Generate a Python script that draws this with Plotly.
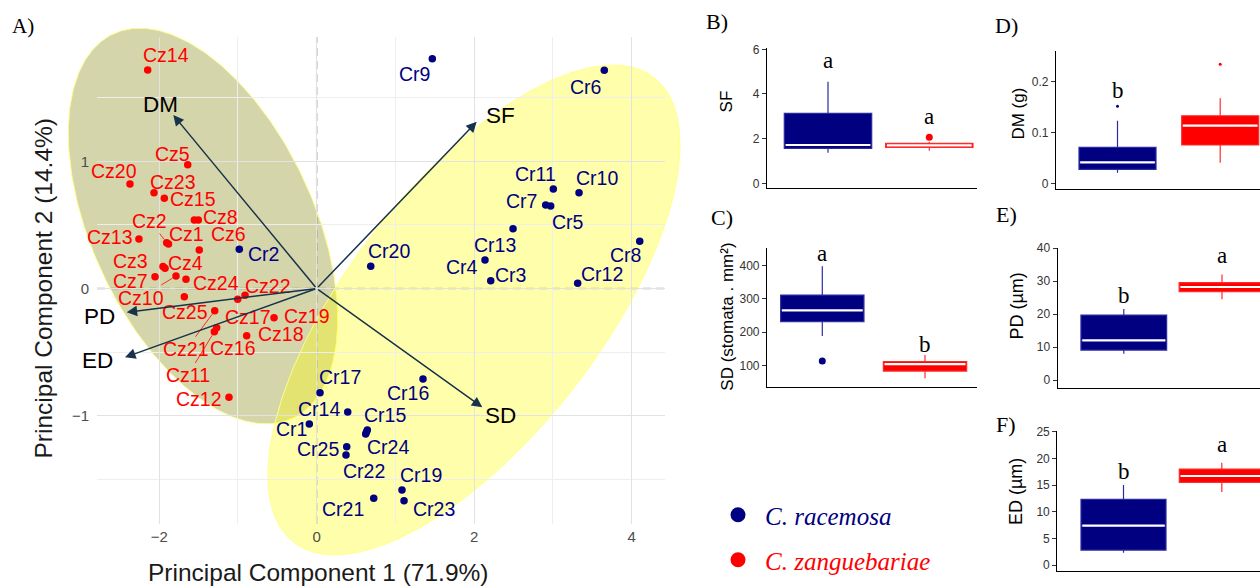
import numpy as np
import plotly.graph_objects as go

W, H = 1260, 587

# ---------------- PCA data (scores) ----------------
cz_names = ["Cz1", "Cz2", "Cz3", "Cz4", "Cz5", "Cz6", "Cz7", "Cz8", "Cz9", "Cz10",
            "Cz11", "Cz12", "Cz13", "Cz14", "Cz15", "Cz16", "Cz17", "Cz18", "Cz19", "Cz20",
            "Cz21", "Cz22", "Cz23", "Cz24", "Cz25"]
cz_pc1 = [-1.882, -1.905, -1.952, -1.926, -1.638, -1.491, -2.053, -1.554, -1.503, -1.787,
          -1.300, -1.114, -2.257, -2.146, -1.935, -1.270, -1.003, -0.889, -0.542, -2.371,
          -1.295, -0.910, -2.066, -1.660, -1.681]
cz_pc2 = [0.350, 0.360, 0.173, 0.159, 0.973, 0.303, 0.093, 0.539, 0.539, 0.098,
          -0.340, -0.855, 0.389, 1.718, 0.709, -0.308, -0.085, -0.371, -0.230, 0.822,
          -0.175, -0.053, 0.753, 0.072, -0.064]

cr_names = ["Cr1", "Cr2", "Cr3", "Cr4", "Cr5", "Cr6", "Cr7", "Cr8", "Cr9", "Cr10",
            "Cr11", "Cr12", "Cr13", "Cr14", "Cr15", "Cr16", "Cr17", "Cr18", "Cr19", "Cr20",
            "Cr21", "Cr22", "Cr23", "Cr24", "Cr25"]
cr_pc1 = [-0.094, -0.983, 2.210, 2.137, 2.971, 3.652, 2.908, 4.102, 1.468, 3.331,
          3.005, 3.314, 2.493, 0.394, 0.643, 1.350, 0.042, 0.632, 1.083, 0.686,
          0.724, 0.372, 1.109, 0.622, 0.381]
cr_pc2 = [-1.065, 0.308, 0.061, 0.224, 0.649, 1.715, 0.656, 0.371, 1.807, 0.753,
          0.782, 0.041, 0.470, -0.971, -1.112, -0.711, -0.819, -1.128, -1.584, 0.175,
          -1.649, -1.309, -1.668, -1.144, -1.244]

load_names = ["SF", "SD", "DM", "PD", "ED"]
load_pc1 = [2.032, 2.103, -1.821, -2.413, -2.434]
load_pc2 = [1.311, -0.934, 1.364, -0.187, -0.541]

# 68% ellipses (centre and two conjugate semi-axes, PC units)
ell_center = {"Cz": (-1.444, 0.491), "Cr": (1.997, -0.169)}
ell_u = {"Cz": (1.138, -1.511), "Cr": (2.288, 1.826)}
ell_v = {"Cz": (-1.277, -0.369), "Cr": (1.271, -0.611)}

# ---------------- Box-plot statistics: q1, median, q3, lower, upper ----------------
box_vars = ["SF", "SD", "DM", "PD", "ED"]
box_cr = {"SF": [1.567, 1.715, 3.135, 1.37, 4.55],
          "SD": [231.5, 265.5, 311.3, 188.7, 397.0],
          "DM": [0.0287, 0.0424, 0.0717, 0.0221, 0.1236],
          "PD": [9.09, 12.0, 19.7, 8.0, 21.5],
          "ED": [2.8, 7.4, 12.3, 2.3, 15.0]}
box_cz = {"SF": [1.612, 1.70, 1.79, 1.46, 1.86],
          "SD": [84.0, 105.0, 112.0, 62.5, 132.0],
          "DM": [0.0762, 0.1139, 0.1334, 0.0416, 0.1674],
          "PD": [26.8, 28.2, 29.5, 24.5, 32.0],
          "ED": [15.5, 16.7, 18.0, 13.7, 19.2]}
out_cr = {"SF": [], "SD": [114.0], "DM": [0.152], "PD": [], "ED": []}
out_cz = {"SF": [2.06], "SD": [], "DM": [0.234], "PD": [], "ED": []}
letters = {"SF": ("a", "a"), "SD": ("a", "b"), "DM": ("b", "a"), "PD": ("b", "a"), "ED": ("b", "a")}
y_titles = {"SF": "SF", "SD": "SD (stomata . mm²)", "DM": "DM (g)", "PD": "PD (µm)", "ED": "ED (µm)"}
y_ticks = {"SF": [0, 2, 4, 6], "SD": [100, 200, 300, 400], "DM": [0, 0.1, 0.2],
           "PD": [0, 10, 20, 30, 40], "ED": [0, 5, 10, 15, 20, 25]}

# ---------------- layout / style (positions in pixels) ----------------
X0, SX = 316.7, 78.75
Y0, SY = 288.5, 127.2
main_px = dict(L=97, R=665, T=37, B=524)
ell_px = dict(L=30, R=720, T=10, B=585)

label_off = {
    "Cz1": (17.8, -9.8), "Cz2": (-16.7, -21.7), "Cz3": (-32, -5.5), "Cz4": (20.5, -5),
    "Cz5": (-15.2, -11), "Cz6": (29.7, -16), "Cz7": (-25, 4.3), "Cz8": (25.7, -3.3),
    "Cz10": (-35.2, 21.5), "Cz11": (-26.6, 43.6), "Cz12": (-30, 1.7), "Cz13": (-29.3, -2.3),
    "Cz14": (18, -15.3), "Cz15": (28.7, 1), "Cz16": (16.3, 20.3), "Cz17": (10.1, 17.7),
    "Cz18": (34.1, -1.2), "Cz19": (32.7, -1.9), "Cz20": (-16.3, -13.3), "Cz21": (-28.5, 38.5),
    "Cz22": (22.5, -9.5), "Cz23": (18.8, -11.2), "Cz24": (29.8, 3.2), "Cz25": (1, 15.5),
    "Cr1": (-18.3, 5.2), "Cr2": (24.7, 4.7), "Cr3": (19.3, -5.9), "Cr4": (-22.5, 6.5),
    "Cr5": (17.6, 16.5), "Cr6": (-18.5, 16.5), "Cr7": (-24.7, -4.2), "Cr8": (-14.4, 13.5),
    "Cr9": (-18.3, 15.3), "Cr10": (18, -14.7), "Cr11": (-18.3, -15), "Cr12": (24.3, -9.1),
    "Cr13": (-18, 16.1), "Cr14": (-28.9, -2.8), "Cr15": (18, -14.8), "Cr16": (-15.3, 14.5),
    "Cr17": (19.5, -15.2), "Cr19": (19, -14.8), "Cr20": (18, -14.8), "Cr21": (-30.9, 10.9),
    "Cr22": (18.3, 15.8), "Cr23": (30.3, 8.5), "Cr24": (22.3, 12.8), "Cr25": (-28.7, 1.8),
}
segment_labels = {"Cz2", "Cz10", "Cz21", "Cz11"}
load_off = {"SF": (23.3, -6), "SD": (17.7, 8.5), "DM": (-12.5, -10), "PD": (-26.7, 4.4), "ED": (-27.5, 2.7)}

box_px = {
    "SF": dict(L=767, R=977, T=48.3, B=188.3, c1=828, c2=929.3, bw=87.4, yr=(-0.224, 6.045),
               lab=(5.51, 3.00), tit=(726.7, 101.7, 17)),
    "SD": dict(L=767, R=977, T=248.3, B=387.3, c1=822.3, c2=925, bw=83.3, yr=(35.5, 451),
               lab=(436.7, 164.8), tit=(726.7, 317, 17)),
    "DM": dict(L=1056, R=1260, T=50.7, B=189.3, c1=1117.5, c2=1220.2, bw=77, yr=(-0.0104, 0.2605),
               lab=(0.1836, 0.2623), tit=(1018.3, 113.3, 17)),
    "PD": dict(L=1057.7, R=1260, T=247.7, B=388.3, c1=1123.8, c2=1222, bw=85.7, yr=(-2.5, 40.1),
               lab=(25.7, 37.6), tit=(1016.7, 305.8, 18)),
    "ED": dict(L=1057.3, R=1260, T=430.7, B=570.7, c1=1123.5, c2=1221.8, bw=85, yr=(-1.07, 25.2),
               lab=(17.5, 22.7), tit=(1016.7, 491.3, 18)),
}
panel_tags = [("A)", 22.5, 25.8, 21), ("B)", 717, 21, 22), ("C)", 721.7, 217.2, 22),
              ("D)", 1006.7, 25.8, 22), ("E)", 1006.7, 215, 22), ("F)", 1006.3, 424.2, 22)]

NAVY, RED = "#000080", "#FF0000"
ARROW = "#17324A"
SANS, SERIF = "Liberation Sans", "Liberation Serif"


def fx(px):
    return px / W


def fy(py):
    return 1 - py / H


def paper_text(txt, px, py, font, angle=0):
    return dict(x=fx(px), y=fy(py), xref="paper", yref="paper", text=txt, showarrow=False,
                xanchor="center", yanchor="middle", textangle=angle, font=font)


fig = go.Figure()
ann = []

# ellipses on an invisible, larger subplot with the same scale
t = np.linspace(0, 2 * np.pi, 361)
for grp, fill in [("Cz", "rgba(128,128,0,0.33)"), ("Cr", "rgba(255,255,0,0.33)")]:
    cx, cy = ell_center[grp]
    ux, uy = ell_u[grp]
    vx, vy = ell_v[grp]
    fig.add_trace(go.Scatter(
        x=cx + ux * np.cos(t) + vx * np.sin(t), y=cy + uy * np.cos(t) + vy * np.sin(t),
        mode="lines", fill="toself", fillcolor=fill,
        line=dict(color="rgba(255,255,140,1)", width=1), hoverinfo="skip",
        showlegend=False, xaxis="x", yaxis="y"))

# score points
for xs, ys, col in [(cz_pc1, cz_pc2, RED), (cr_pc1, cr_pc2, NAVY)]:
    fig.add_trace(go.Scatter(x=xs, y=ys, mode="markers", marker=dict(color=col, size=7.5),
                             cliponaxis=False, showlegend=False, hoverinfo="skip",
                             xaxis="x2", yaxis="y2"))

# legend-only entries
fig.add_trace(go.Scatter(x=[None], y=[None], mode="markers", marker=dict(color=NAVY, size=15),
                         name="<i>C. racemosa</i>", legend="legend", xaxis="x2", yaxis="y2"))
fig.add_trace(go.Scatter(x=[None], y=[None], mode="markers", marker=dict(color=RED, size=15),
                         name="<i>C. zanguebariae</i>", legend="legend2", xaxis="x2", yaxis="y2"))

# point labels
for names, xs, ys, col in [(cz_names, cz_pc1, cz_pc2, RED), (cr_names, cr_pc1, cr_pc2, NAVY)]:
    for nm, xv, yv in zip(names, xs, ys):
        if nm not in label_off:
            continue
        dx, dy = label_off[nm]
        if nm in segment_labels:
            ann.append(dict(x=xv, y=yv, xref="x2", yref="y2", text=nm, showarrow=True,
                            ax=dx, ay=dy, arrowhead=0, arrowwidth=0.8, arrowcolor=col,
                            standoff=4, font=dict(family=SANS, size=19.5, color=col)))
        else:
            ann.append(dict(x=xv, y=yv, xref="x2", yref="y2", text=nm, showarrow=False,
                            xshift=dx, yshift=-dy, font=dict(family=SANS, size=19.5, color=col)))

# loading arrows
for nm, xv, yv in zip(load_names, load_pc1, load_pc2):
    ann.append(dict(x=xv, y=yv, xref="x2", yref="y2", ax=0, ay=0, axref="x2", ayref="y2",
                    text="", showarrow=True, arrowhead=2, arrowsize=1.4, arrowwidth=1.5,
                    arrowcolor=ARROW))
    dx, dy = load_off[nm]
    ann.append(dict(x=xv, y=yv, xref="x2", yref="y2", text=nm, showarrow=False,
                    xshift=dx, yshift=-dy, font=dict(family=SANS, size=22.5, color="black")))

# PCA axis titles
ann.append(paper_text("Principal Component 1 (71.9%)", 318, 572,
                      dict(family=SANS, size=24.5, color="#1A1A1A")))
ann.append(paper_text("Principal Component 2 (14.4%)", 42.5, 289,
                      dict(family=SANS, size=24.5, color="#1A1A1A"), angle=-90))

layout = dict(
    width=W, height=H, autosize=False,
    margin=dict(l=0, r=0, t=0, b=0, pad=0, autoexpand=False),
    paper_bgcolor="white", plot_bgcolor="rgba(0,0,0,0)",
    xaxis=dict(domain=[fx(ell_px["L"]), fx(ell_px["R"])],
               range=[(ell_px["L"] - X0) / SX, (ell_px["R"] - X0) / SX],
               visible=False, fixedrange=True, anchor="y", automargin=False),
    yaxis=dict(domain=[fy(ell_px["B"]), fy(ell_px["T"])],
               range=[(Y0 - ell_px["B"]) / SY, (Y0 - ell_px["T"]) / SY],
               visible=False, fixedrange=True, anchor="x", automargin=False),
    xaxis2=dict(domain=[fx(main_px["L"]), fx(main_px["R"])],
                range=[(main_px["L"] - X0) / SX, (main_px["R"] - X0) / SX],
                anchor="y2", tick0=0, dtick=2, showgrid=True, gridcolor="#E2E2E2", gridwidth=1.1,
                minor=dict(dtick=1, showgrid=True, gridcolor="#EEEEEE", gridwidth=0.7),
                zeroline=False, showline=False, ticks="", ticklabelstandoff=2, automargin=False,
                tickfont=dict(family=SANS, size=15, color="#4D4D4D"), fixedrange=True),
    yaxis2=dict(domain=[fy(main_px["B"]), fy(main_px["T"])],
                range=[(Y0 - main_px["B"]) / SY, (Y0 - main_px["T"]) / SY],
                anchor="x2", tick0=0, dtick=1, showgrid=True, gridcolor="#E2E2E2", gridwidth=1.1,
                minor=dict(dtick=0.5, showgrid=True, gridcolor="#EEEEEE", gridwidth=0.7),
                zeroline=False, showline=False, ticks="", ticklabelstandoff=7, automargin=False,
                tickfont=dict(family=SANS, size=15, color="#4D4D4D"), fixedrange=True),
    legend=dict(x=fx(711), y=fy(515), xanchor="left", yanchor="middle", itemwidth=44,
                bgcolor="rgba(0,0,0,0)", font=dict(family=SERIF, size=25, color=NAVY)),
    legend2=dict(x=fx(711), y=fy(560), xanchor="left", yanchor="middle", itemwidth=44,
                 bgcolor="rgba(0,0,0,0)", font=dict(family=SERIF, size=25, color=RED)),
    shapes=[
        dict(type="line", xref="x2", yref="y2 domain", x0=0, x1=0, y0=0, y1=1,
             line=dict(color="#A6A6A6", width=1.5, dash="8px,5px"), layer="below"),
        dict(type="line", xref="x2 domain", yref="y2", x0=0, x1=1, y0=0, y1=0,
             line=dict(color="#A6A6A6", width=1.5, dash="8px,5px"), layer="below"),
    ],
)

# ---------------- box panels ----------------
for k, var in enumerate(box_vars):
    n = k + 3
    xa, ya = f"x{n}", f"y{n}"
    bp = box_px[var]
    span = bp["c2"] - bp["c1"]
    xr = [1 - (bp["c1"] - bp["L"]) / span, 1 + (bp["R"] - bp["c1"]) / span]
    bwd = bp["bw"] / span
    for pos, stats, outs, fill, lc in [(1, box_cr[var], out_cr[var], NAVY, "#2B2BA0"),
                                       (2, box_cz[var], out_cz[var], RED, "#FF2A2A")]:
        q1, med, q3, lo, hi = stats
        fig.add_trace(go.Box(x=[pos], q1=[q1], median=[med], q3=[q3], lowerfence=[lo],
                             upperfence=[hi], width=bwd, fillcolor=fill,
                             line=dict(color=lc, width=1.2), whiskerwidth=0, boxpoints=False,
                             showlegend=False, hoverinfo="skip", xaxis=xa, yaxis=ya))
        fig.add_trace(go.Scatter(x=[pos - bwd * 0.485, pos + bwd * 0.485], y=[med, med],
                                 mode="lines", line=dict(color="white", width=2.2),
                                 showlegend=False, hoverinfo="skip", xaxis=xa, yaxis=ya))
        if outs:
            msize = 3 if var == "DM" else 7
            fig.add_trace(go.Scatter(x=[pos] * len(outs), y=outs, mode="markers",
                                     marker=dict(color=fill, size=msize), cliponaxis=False,
                                     showlegend=False, hoverinfo="skip", xaxis=xa, yaxis=ya))
    for pos, letter, ly in [(1, letters[var][0], bp["lab"][0]), (2, letters[var][1], bp["lab"][1])]:
        ann.append(dict(x=pos, y=ly, xref=xa, yref=ya, text=letter, showarrow=False,
                        font=dict(family=SERIF, size=23, color="black")))
    tx, ty, ts = bp["tit"]
    ann.append(paper_text(y_titles[var], tx, ty, dict(family=SANS, size=ts, color="black"), angle=-90))
    layout[f"xaxis{n}"] = dict(domain=[fx(bp["L"]), min(1, fx(bp["R"]))], range=xr, anchor=ya,
                               showline=True, linecolor="black", linewidth=1.2, showgrid=False,
                               zeroline=False, showticklabels=False, ticks="", fixedrange=True,
                               automargin=False)
    layout[f"yaxis{n}"] = dict(domain=[fy(bp["B"]), fy(bp["T"])], range=list(bp["yr"]), anchor=xa,
                               showline=True, linecolor="black", linewidth=1.2, showgrid=False,
                               zeroline=False, tickmode="array", tickvals=y_ticks[var],
                               ticks="outside", ticklen=4, tickcolor="#333333", tickwidth=1,
                               tickfont=dict(family=SANS, size=12, color="#333333"), fixedrange=True,
                               automargin=False)

for txt, px, py, sz in panel_tags:
    ann.append(paper_text(txt, px, py, dict(family=SERIF, size=sz, color="black")))

layout["annotations"] = ann
fig.update_layout(**layout)
fig.write_html("out.html", config={"displayModeBar": False},
               post_script="document.body.style.margin='0';document.body.style.overflow='hidden';")
